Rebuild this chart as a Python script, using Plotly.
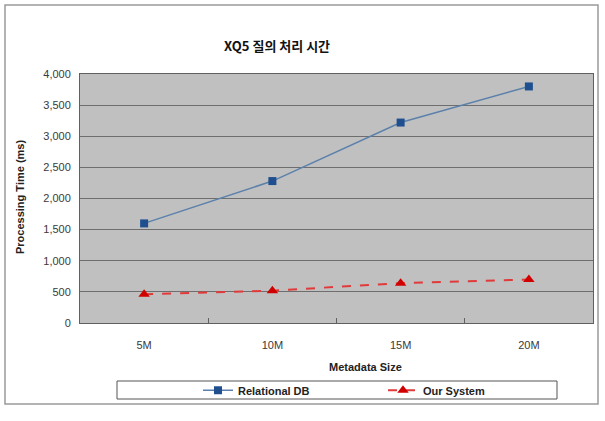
import plotly.graph_objects as go

categories = ["5M", "10M", "15M", "20M"]
relational_db = [1600, 2280, 3220, 3800]
our_system = [460, 520, 640, 700]
y_ticks = [0, 500, 1000, 1500, 2000, 2500, 3000, 3500, 4000]

narrow = "Liberation Sans Narrow, Arial Narrow, Liberation Sans, sans-serif"
bold = "Liberation Sans, Arial, sans-serif"

fig = go.Figure()
fig.add_trace(go.Scatter(
    x=categories, y=relational_db, name="<b>Relational DB</b>", mode="lines+markers",
    line=dict(color="#5b80ab", width=1.5),
    marker=dict(symbol="square", size=8, color="#1f4f8f"),
))
fig.add_trace(go.Scatter(
    x=categories, y=our_system, name="<b>Our System</b>", mode="lines+markers",
    line=dict(color="#e03a3a", width=2, dash="dash"),
    marker=dict(symbol="triangle-up", size=10, color="#d00000"),
))

fig.update_layout(
    width=605, height=421,
    margin=dict(l=80, r=12, t=74, b=98),
    paper_bgcolor="white", plot_bgcolor="#c0c0c0",
    font=dict(family=narrow, size=11, color="#333333"),
    showlegend=True,
    legend=dict(
        orientation="h", x=0.23, xanchor="left", y=-0.27, yanchor="middle",
        bgcolor="rgba(0,0,0,0)", borderwidth=0,
        font=dict(family=bold, size=11, color="#222222"),
        entrywidth=140, entrywidthmode="pixels", itemwidth=30,
    ),
    xaxis=dict(
        type="category", range=[-0.5, 3.5], tickson="boundaries",
        ticks="inside", ticklen=5, tickcolor="#606060",
        showline=True, linecolor="#606060", linewidth=1, mirror=True,
        showgrid=False, ticklabelstandoff=12,
        tickfont=dict(family=narrow, size=11, color="#3a3a3a"),
    ),
    yaxis=dict(
        range=[0, 4000], tickvals=y_ticks, tickformat=",",
        showgrid=True, gridcolor="#6e6e6e", gridwidth=1,
        showline=True, linecolor="#606060", linewidth=1, mirror=True,
        ticks="", zeroline=False, ticklabelstandoff=6,
        tickfont=dict(family=narrow, size=11, color="#3a3a3a"),
    ),
    shapes=[
        dict(type="rect", xref="paper", yref="paper",
             x0=(5 - 80) / 513, x1=(598 - 80) / 513,
             y0=(323 - 404) / 249, y1=(323 - 5) / 249,
             line=dict(color="#9a9a9a", width=1.5), layer="below"),
        dict(type="rect", xref="paper", yref="paper",
             x0=(117 - 80) / 513, x1=(557 - 80) / 513,
             y0=(323 - 399) / 249, y1=(323 - 381) / 249,
             line=dict(color="#555555", width=1)),
    ],
    annotations=[
        dict(text="<b>XQ5 질의 처리 시간</b>", xref="paper", yref="paper",
             x=(277 - 80) / 513, y=(323 - 45) / 249, showarrow=False,
             xanchor="center", yanchor="middle",
             font=dict(family="Noto Sans CJK KR, sans-serif", size=13, color="#111111")),
        dict(text="<b>Metadata Size</b>", xref="paper", yref="paper",
             x=(365 - 80) / 513, y=(323 - 367) / 249, showarrow=False,
             xanchor="center", yanchor="middle",
             font=dict(family=narrow, size=11, color="#222222")),
        dict(text="<b>Processing Time (ms)</b>", xref="paper", yref="paper",
             x=(20 - 80) / 513, y=(323 - 197) / 249, showarrow=False,
             xanchor="center", yanchor="middle", textangle=-90,
             font=dict(family=narrow, size=11, color="#222222")),
    ],
)

fig.write_html("out.html")
